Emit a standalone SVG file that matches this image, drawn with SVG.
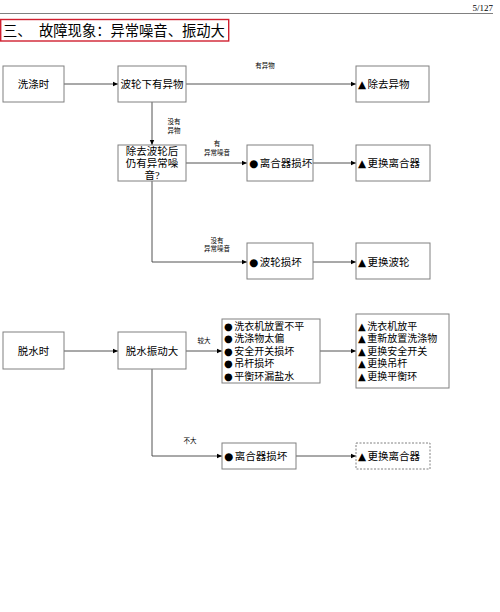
<svg xmlns="http://www.w3.org/2000/svg" width="500" height="612" viewBox="0 0 500 612">
<style>
.bx{fill:#fff;stroke:#808080;stroke-width:1}
.dash{stroke-dasharray:2,1.5}
.t{font-family:"Liberation Serif","Noto Sans CJK SC",serif;font-size:10.5px;fill:#000}
.l{font-size:10px}
.g{font-family:"DejaVu Sans","Noto Sans CJK SC",sans-serif}
.c{text-anchor:middle}
.s{font-family:"Liberation Serif","Noto Sans CJK SC",serif;font-size:6.5px;fill:#000;text-anchor:middle}
.ln{fill:none;stroke:#404040;stroke-width:0.9}
</style>
<defs>
<marker id="ah" markerWidth="6" markerHeight="6" refX="5" refY="3" orient="auto" markerUnits="userSpaceOnUse">
<path d="M0,0.8 L5,3 L0,5.2 Z" fill="#000"/>
</marker>
</defs>
<rect width="500" height="612" fill="#fff"/>
<g id="header">
<text x="493" y="11" font-family="Liberation Serif" font-size="9" text-anchor="end">5/127</text>
<line x1="0" y1="13.5" x2="493" y2="13.5" stroke="#808080" stroke-width="1"/>
</g>
<g id="title">
<rect x="0.7" y="19.5" width="228" height="21.5" fill="none" stroke="#d02030" stroke-width="1.4"/>
<text x="3" y="36" font-family="Liberation Serif,'Noto Sans CJK SC',serif" font-size="14.3">三、</text>
<text x="39" y="36" font-family="Liberation Serif,'Noto Sans CJK SC',serif" font-size="14.3">故障现象：异常噪音、振动大</text>
</g>
<g id="connectors">
<line class="ln" x1="64" y1="84" x2="118" y2="84" marker-end="url(#ah)"/>
<line class="ln" x1="186" y1="84" x2="356" y2="84" marker-end="url(#ah)"/>
<line class="ln" x1="152" y1="102" x2="152" y2="145" marker-end="url(#ah)"/>
<line class="ln" x1="186" y1="163" x2="247" y2="163" marker-end="url(#ah)"/>
<line class="ln" x1="313" y1="163" x2="356" y2="163" marker-end="url(#ah)"/>
<polyline class="ln" points="152,181 152,262 247,262" marker-end="url(#ah)"/>
<line class="ln" x1="313" y1="262" x2="356" y2="262" marker-end="url(#ah)"/>
<line class="ln" x1="64" y1="351" x2="118" y2="351" marker-end="url(#ah)"/>
<line class="ln" x1="186" y1="351" x2="222" y2="351" marker-end="url(#ah)"/>
<line class="ln" x1="320" y1="351" x2="356" y2="351" marker-end="url(#ah)"/>
<polyline class="ln" points="152,369 152,456 222,456" marker-end="url(#ah)"/>
<line class="ln" x1="296" y1="456" x2="356" y2="456" marker-end="url(#ah)"/>
<text class="s" x="265" y="68">有异物</text>
<text class="s" x="174" y="124">没有</text>
<text class="s" x="174" y="133">异物</text>
<text class="s" x="217" y="146">有</text>
<text class="s" x="217" y="155">异常噪音</text>
<text class="s" x="217" y="243">没有</text>
<text class="s" x="217" y="251">异常噪音</text>
<text class="s" x="204" y="343">较大</text>
<text class="s" x="190" y="443">不大</text>
</g>
<g id="n1"><rect class="bx" x="3" y="66" width="61" height="36"/><text class="t c" x="33.5" y="88">洗涤时</text></g>
<g id="n2"><rect class="bx" x="118" y="66" width="68" height="36"/><text class="t c" x="152" y="88">波轮下有异物</text></g>
<g id="n3"><rect class="bx" x="356" y="66" width="73" height="36"/><text class="t" x="358" y="88"><tspan class="g">▲</tspan><tspan dx="1.5">除去异物</tspan></text></g>
<g id="n4"><rect class="bx" x="118" y="145" width="68" height="36"/>
<text class="t c" x="152" y="155">除去波轮后</text><text class="t c" x="152" y="167">仍有异常噪</text><text class="t c" x="152" y="179">音?</text></g>
<g id="n5"><rect class="bx" x="247" y="145" width="66" height="36"/><text class="t" x="249" y="167"><tspan class="g">●</tspan><tspan dx="1.5">离合器损坏</tspan></text></g>
<g id="n6"><rect class="bx" x="356" y="145" width="74" height="36"/><text class="t" x="358" y="167"><tspan class="g">▲</tspan><tspan dx="1.5">更换离合器</tspan></text></g>
<g id="n7"><rect class="bx" x="247" y="243" width="66" height="36"/><text class="t" x="249" y="266"><tspan class="g">●</tspan><tspan dx="1.5">波轮损坏</tspan></text></g>
<g id="n8"><rect class="bx" x="356" y="243" width="74" height="36"/><text class="t" x="358" y="266"><tspan class="g">▲</tspan><tspan dx="1.5">更换波轮</tspan></text></g>
<g id="n9"><rect class="bx" x="3" y="332" width="61" height="37"/><text class="t c" x="33.5" y="355">脱水时</text></g>
<g id="n10"><rect class="bx" x="118" y="332" width="68" height="37"/><text class="t c" x="152" y="355">脱水振动大</text></g>
<g id="n11"><rect class="bx" x="222" y="319" width="98" height="64"/>
<text class="t l" x="224" y="329.5"><tspan class="g">●</tspan><tspan dx="1.5">洗衣机放置不平</tspan></text>
<text class="t l" x="224" y="342"><tspan class="g">●</tspan><tspan dx="1.5">洗涤物太偏</tspan></text>
<text class="t l" x="224" y="354.5"><tspan class="g">●</tspan><tspan dx="1.5">安全开关损坏</tspan></text>
<text class="t l" x="224" y="367"><tspan class="g">●</tspan><tspan dx="1.5">吊杆损坏</tspan></text>
<text class="t l" x="224" y="379.5"><tspan class="g">●</tspan><tspan dx="1.5">平衡环漏盐水</tspan></text></g>
<g id="n12"><rect class="bx" x="356" y="314" width="93" height="74"/>
<text class="t l" x="358" y="329.5"><tspan class="g">▲</tspan><tspan dx="1.5">洗衣机放平</tspan></text>
<text class="t l" x="358" y="342"><tspan class="g">▲</tspan><tspan dx="1.5">重新放置洗涤物</tspan></text>
<text class="t l" x="358" y="354.5"><tspan class="g">▲</tspan><tspan dx="1.5">更换安全开关</tspan></text>
<text class="t l" x="358" y="367"><tspan class="g">▲</tspan><tspan dx="1.5">更换吊杆</tspan></text>
<text class="t l" x="358" y="379.5"><tspan class="g">▲</tspan><tspan dx="1.5">更换平衡环</tspan></text></g>
<g id="n13"><rect class="bx" x="222" y="443" width="74" height="26"/><text class="t" x="224" y="460"><tspan class="g">●</tspan><tspan dx="1.5">离合器损坏</tspan></text></g>
<g id="n14"><rect class="bx dash" x="356" y="443" width="74" height="26"/><text class="t" x="358" y="460"><tspan class="g">▲</tspan><tspan dx="1.5">更换离合器</tspan></text></g>
</svg>
